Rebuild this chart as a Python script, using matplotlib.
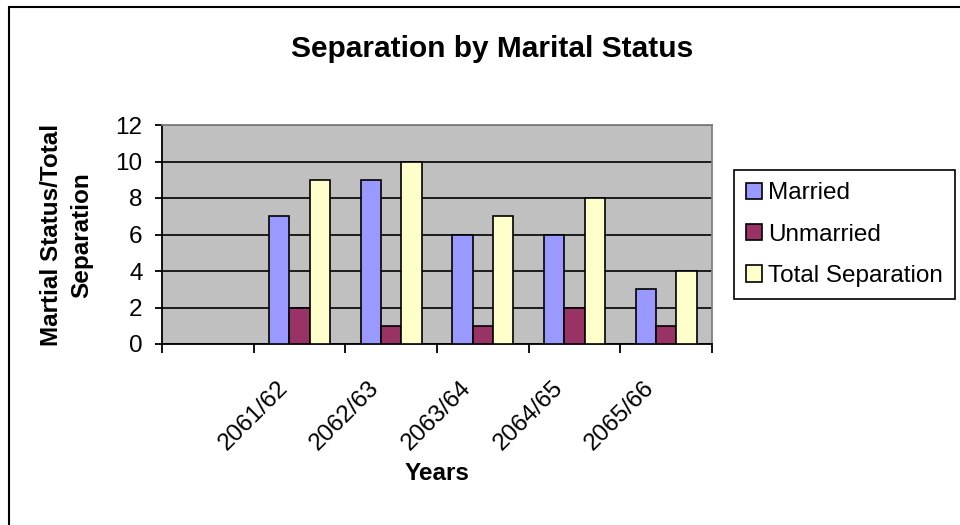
import matplotlib
matplotlib.use("Agg")
import matplotlib.pyplot as plt
import numpy as np
from matplotlib.patches import Rectangle
from matplotlib.transforms import ScaledTranslation

# data (first category is blank in the source)
categories = ["", "2061/62", "2062/63", "2063/64", "2064/65", "2065/66"]
married = [np.nan, 7, 9, 6, 6, 3]
unmarried = [np.nan, 2, 1, 1, 2, 1]
total_sep = [np.nan, 9, 10, 7, 8, 4]
series_names = ["Married", "Unmarried", "Total Separation"]
colors = ["#9999FF", "#993366", "#FFFFCC"]

plt.rcParams["font.family"] = ["Liberation Sans", "DejaVu Sans"]

fig = plt.figure(figsize=(9.6, 5.25), dpi=100)
fig.patch.set_facecolor("white")
ax = fig.add_axes([162 / 960, 1 - 344 / 525, 550 / 960, 219 / 525])
ax.set_facecolor("#C0C0C0")

x = np.arange(len(categories))
w = 1 / 4.5
for i, (vals, name, c) in enumerate(zip([married, unmarried, total_sep], series_names, colors)):
    ax.bar(x + (i - 1) * w, vals, width=w, color=c, edgecolor="black",
           linewidth=1.2, label=name, zorder=3)

ax.set_xlim(-0.5, len(categories) - 0.5)
ax.set_ylim(0, 12)
ax.set_yticks(range(0, 13, 2))
ax.set_axisbelow(True)
ax.yaxis.grid(True, color="black", linewidth=1.2)

# category boundaries get tick marks, centres get the labels
ax.set_xticks(np.arange(-0.5, len(categories), 1))
ax.set_xticklabels([])
ax.set_xticks(x, minor=True)
ax.set_xticklabels(categories, minor=True, rotation=45, ha="right", va="top", fontsize=17.5)
ax.tick_params(axis="x", which="major", direction="out", length=6.5, width=1.3, color="black")
ax.tick_params(axis="x", which="minor", length=0, pad=24)
ax.tick_params(axis="y", direction="out", length=5, width=1.3, pad=9, labelsize=17.5)
for lab in ax.get_xticklabels(minor=True):
    lab.set_transform(lab.get_transform() + ScaledTranslation(-0.075, 0, fig.dpi_scale_trans))

for s in ["left", "bottom"]:
    ax.spines[s].set_color("black")
    ax.spines[s].set_linewidth(1.3)
for s in ["top", "right"]:
    ax.spines[s].set_color("#808080")
    ax.spines[s].set_linewidth(1.3)

fig.text(492 / 960, 1 - 57 / 525, "Separation by Marital Status", ha="center",
         va="baseline", fontsize=21.5, fontweight="bold")
fig.text(66.5 / 960, 1 - 235 / 525, "Martial Status/Total\nSeparation", rotation=90,
         ha="center", va="center", multialignment="center", linespacing=1.4,
         fontsize=17.5, fontweight="bold")
fig.text(437 / 960, 1 - 474 / 525, "Years", ha="center", va="center",
         fontsize=17.5, fontweight="bold")

leg = ax.legend(loc="upper left", bbox_to_anchor=(734 / 960, 1 - 170 / 525),
                bbox_transform=fig.transFigure, fontsize=17.5, frameon=True,
                fancybox=False, shadow=False, borderpad=0.5, labelspacing=0.8,
                handlelength=0.65, handleheight=0.65, handletextpad=0.25,
                borderaxespad=0)
leg.get_frame().set_edgecolor("black")
leg.get_frame().set_linewidth(1.2)
leg.get_frame().set_facecolor("white")
leg.get_frame().set_alpha(1)

# chart border (right and bottom edges fall outside the image)
fig.patches.append(Rectangle((9 / 960, -0.1), 1.2, 1 - 7 / 525 + 0.1, fill=False,
                             edgecolor="black", linewidth=1.5,
                             transform=fig.transFigure, figure=fig))

fig.savefig("out.png", dpi=100)
